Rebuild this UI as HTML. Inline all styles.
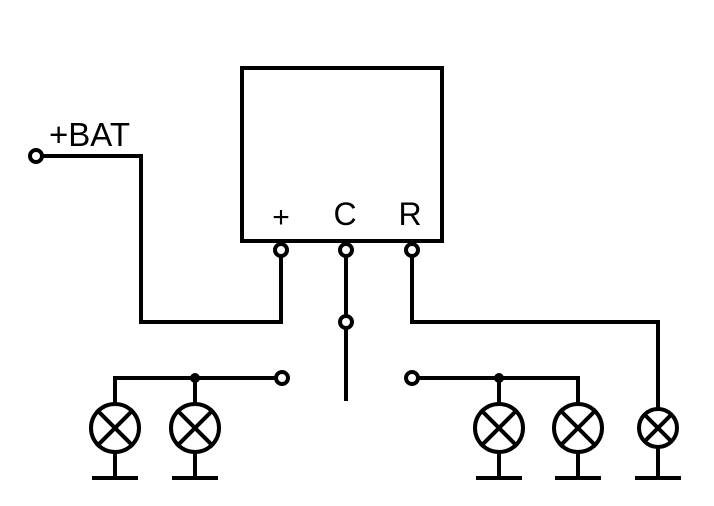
<!DOCTYPE html>
<html><head><style>body{margin:0;background:#fff}</style></head><body>
<svg width="714" height="501" viewBox="0 0 714 501" xmlns="http://www.w3.org/2000/svg">
<g stroke="#000" stroke-width="4" fill="none" stroke-linecap="square">
<rect x="242" y="68" width="200" height="173"/>
<polyline points="42,156 141,156 141,322 281,322 281,256"/>
<line x1="346" y1="256" x2="346" y2="316"/>
<line x1="346" y1="328" x2="346" y2="399"/>
<polyline points="412,256 412,322 658,322 658,408"/>
<polyline points="276,378 115,378 115,403"/>
<line x1="195" y1="378" x2="195" y2="403"/>
<polyline points="418,378 578,378 578,403"/>
<line x1="499" y1="378" x2="499" y2="403"/>
<g id="l1">
<circle cx="115" cy="428" r="24"/>
<line x1="98" y1="411" x2="132" y2="445"/><line x1="132" y1="411" x2="98" y2="445"/>
<line x1="115" y1="452" x2="115" y2="478"/><line x1="94" y1="478" x2="136" y2="478"/>
</g>
<use href="#l1" x="80"/>
<use href="#l1" x="384"/>
<use href="#l1" x="463"/>
<circle cx="658" cy="428" r="19"/>
<line x1="645" y1="415" x2="671" y2="441"/><line x1="671" y1="415" x2="645" y2="441"/>
<line x1="658" y1="447" x2="658" y2="478"/><line x1="637" y1="478" x2="679" y2="478"/>
<g fill="#fff">
<circle cx="36" cy="156" r="6"/>
<circle cx="281" cy="250" r="6"/>
<circle cx="346" cy="250" r="6"/>
<circle cx="412" cy="250" r="6"/>
<circle cx="346" cy="322" r="6"/>
<circle cx="282" cy="378" r="6"/>
<circle cx="412" cy="378" r="6"/>
</g>
</g>
<circle cx="195" cy="378" r="5"/>
<circle cx="499" cy="378" r="5"/>
<g font-family="Liberation Sans, sans-serif" font-size="32" fill="#000">
<text x="49" y="146" font-size="33">+BAT</text>
<text x="281" y="227" text-anchor="middle" font-size="30">+</text>
<text x="345" y="225" text-anchor="middle">C</text>
<text x="410" y="225" text-anchor="middle">R</text>
</g>
</svg>
</body></html>
